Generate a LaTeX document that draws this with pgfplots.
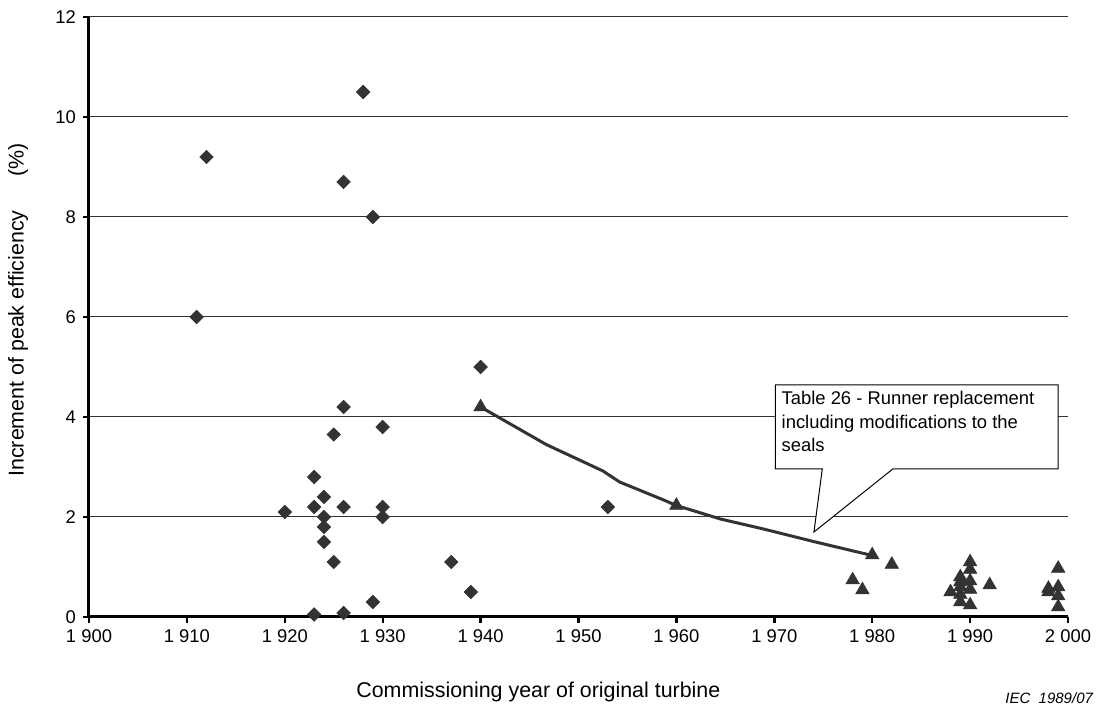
\documentclass[border=0pt]{standalone}
\usepackage{fontspec}
\setmainfont{Liberation Sans}
\usepackage{pgfplots}
\pgfplotsset{compat=1.18}

\definecolor{markgray}{RGB}{51,51,51}

\begin{document}
\begin{tikzpicture}
\useasboundingbox (-44.5pt,-47pt) rectangle (509pt,308.5pt);
\begin{axis}[
    width=489.5pt, height=300pt, scale only axis,
    xmin=1900, xmax=2000, ymin=0, ymax=12,
    xtick={1900,1910,...,2000},
    xticklabels={1 900,1 910,1 920,1 930,1 940,1 950,1 960,1 970,1 980,1 990,2 000},
    ytick={0,2,...,12},
    axis x line*=bottom, axis y line*=left,
    axis line style={black, line width=1.5pt},
    ymajorgrids, grid style={black!80, line width=0.5pt},
    tick align=outside, major tick length=3pt,
    tick style={black, line width=1.2pt},
    /pgf/number format/assume math mode=true,
    tick label style={font=\fontsize{9.2}{11}\selectfont},
    xlabel={Commissioning year of original turbine},
    ylabel={Increment of peak efficiency\hspace{1.6em}(\%)},
    label style={font=\fontsize{10.7}{13}\selectfont},
    xlabel style={at={(axis description cs:0.459,0)}, anchor=base, yshift=-40pt},
    ylabel style={at={(axis description cs:-0.0725,0.512)}, anchor=center},
    clip=false,
  ]
  % callout box
  \draw[black, line width=0.5pt, fill=white]
    (axis cs:1970.1,4.64) -- (axis cs:1999,4.64) -- (axis cs:1999,2.96)
    -- (axis cs:1982.1,2.96) -- (axis cs:1974.05,1.7) -- (axis cs:1974.9,2.96)
    -- (axis cs:1970.1,2.96) -- cycle;
  \node[anchor=north west, align=left, inner sep=0pt, xshift=3pt, yshift=-3pt,
        font=\fontsize{9.2}{11.7}\selectfont]
    at (axis cs:1970.1,4.64)
    {Table 26 - Runner replacement\\including modifications to the\\seals};

  % trend line
  \addplot[markgray, line width=1.5pt, no markers] coordinates {
    (1940,4.2) (1946.7,3.45) (1952.5,2.92) (1954.2,2.7) (1958.7,2.34)
    (1960,2.23) (1964.5,1.96) (1968.9,1.76) (1974,1.51) (1980,1.23)};

  % diamonds
  \addplot[only marks, mark=square*, mark size=2.35pt,
           mark options={rotate=45, fill=markgray, draw=markgray}] coordinates {
    (1911,6.0) (1912,9.2) (1920,2.1) (1923,2.8) (1923,2.2) (1923,0.05)
    (1924,2.4) (1924,2.0) (1924,1.8) (1924,1.5) (1925,3.65) (1925,1.1)
    (1926,8.7) (1926,4.2) (1926,2.2) (1926,0.08) (1928,10.5) (1929,8.0)
    (1929,0.3) (1930,3.8) (1930,2.2) (1930,2.0) (1937,1.1) (1939,0.5)
    (1940,5.0) (1953,2.2)};

  % triangles
  \addplot[only marks, mark=triangle*, mark size=3.8pt,
           mark options={fill=markgray, draw=markgray}] coordinates {
    (1940,4.2) (1960,2.23) (1978,0.74) (1979,0.54) (1980,1.24) (1982,1.05)
    (1988,0.5) (1989,0.8) (1989,0.7) (1989,0.6) (1989,0.45) (1989,0.3)
    (1990,1.1) (1990,0.95) (1990,0.72) (1990,0.55) (1990,0.24) (1992,0.64)
    (1998,0.57) (1998,0.5) (1999,0.97) (1999,0.6) (1999,0.42) (1999,0.2)};
\end{axis}
\node[anchor=base east, font=\itshape\fontsize{7.5}{9}\selectfont]
  at (505.5pt,-43.5pt) {IEC\ \ 1989/07};
\end{tikzpicture}
\end{document}
